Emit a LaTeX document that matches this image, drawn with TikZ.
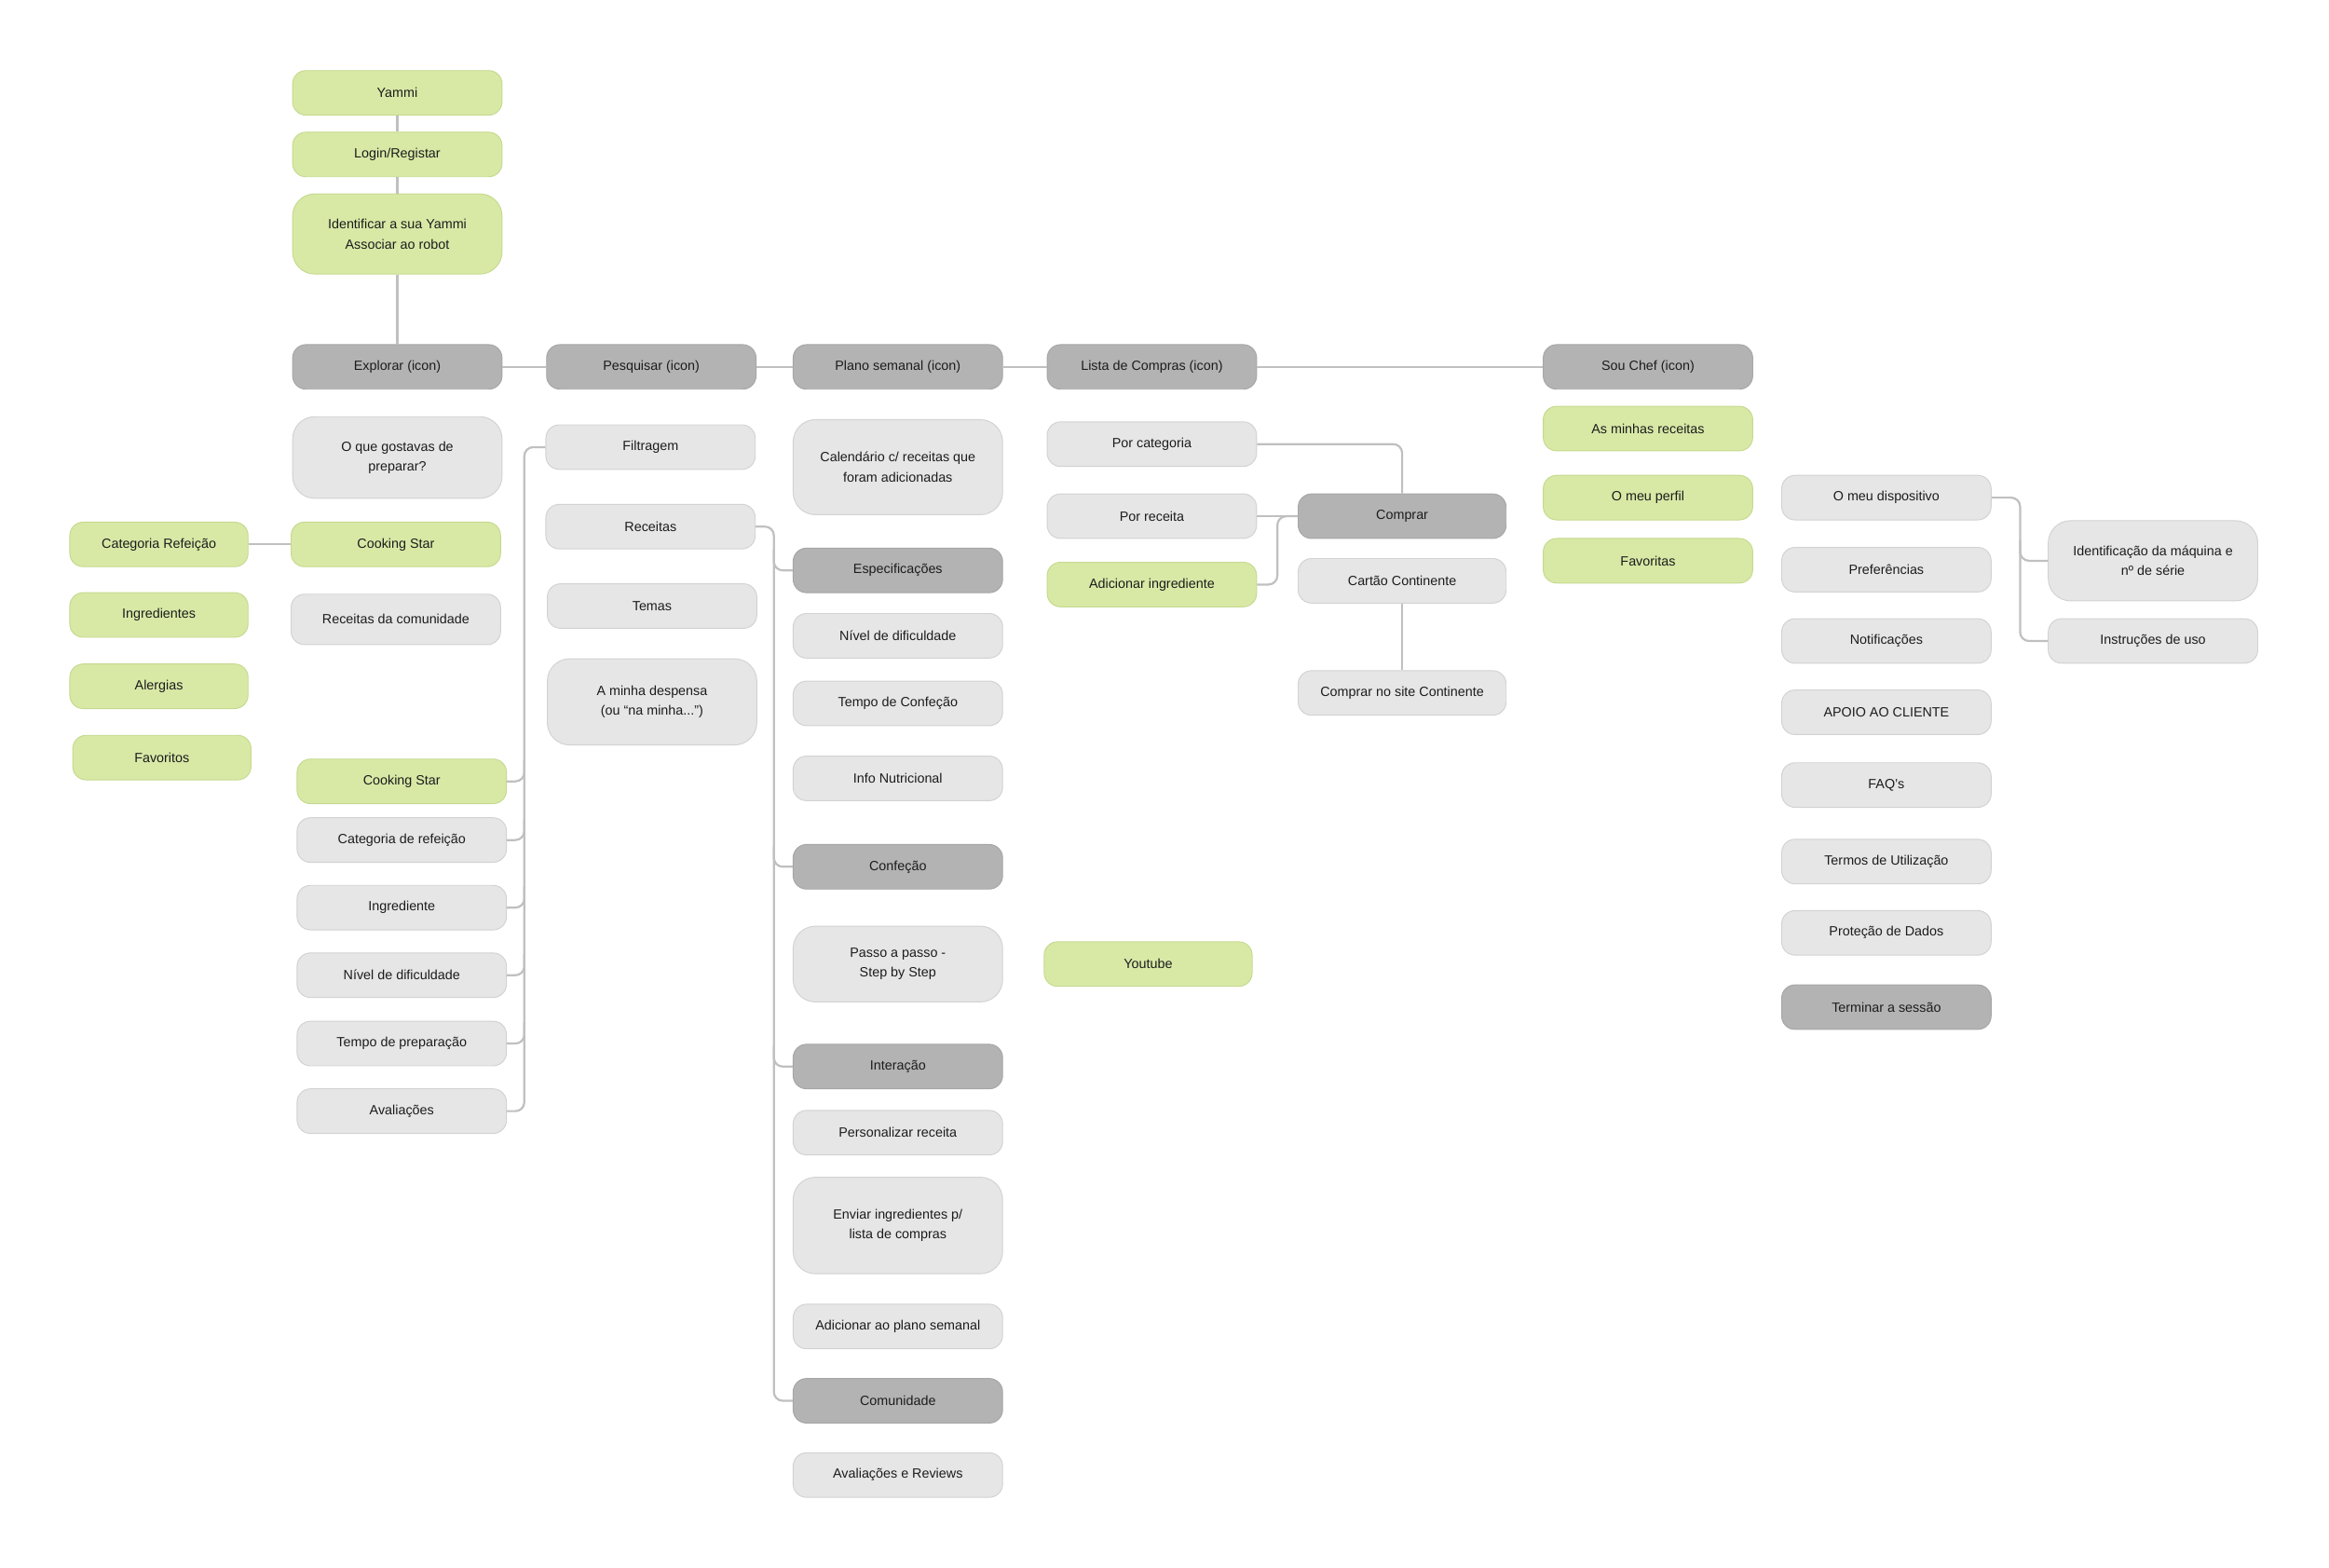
\documentclass[tikz,border=0pt]{standalone}
\usepackage{fontspec}
\setmainfont{Liberation Sans}
\definecolor{cgreen}{HTML}{D8E9A6}
\definecolor{cgreenb}{HTML}{C6D98F}
\definecolor{clight}{HTML}{E6E6E6}
\definecolor{clightb}{HTML}{D2D2D2}
\definecolor{cdark}{HTML}{B3B3B3}
\definecolor{cdarkb}{HTML}{A6A6A6}
\definecolor{clink}{HTML}{C0C0C0}
\definecolor{ctext}{HTML}{1C1C1C}
\tikzset{
  box/.style={rounded corners=9pt, minimum width=141pt, minimum height=30pt, inner sep=0pt,
    align=center, text=ctext, line width=0.6pt, font=\fontsize{9}{13.5}\selectfont},
  tall/.style={rounded corners=15pt, minimum height=#1},
  gbox/.style={box, fill=cgreen, draw=cgreenb},
  lbox/.style={box, fill=clight, draw=clightb},
  dbox/.style={box, fill=cdark, draw=cdarkb},
  link/.style={draw=clink, line width=1.4pt, rounded corners=6pt}
}
\begin{document}
\begin{tikzpicture}[x=1pt,y=-1pt]
\useasboundingbox (0,-0.5) rectangle (1568,1054.5);
% column A
\node[gbox] (yammi) at (267.5,62) {Yammi};
\node[gbox] (login) at (267.5,103.5) {Login/Registar};
\node[gbox,tall=54pt] (ident) at (267.5,157) {Identificar a sua Yammi\\Associar ao robot};
\node[dbox] (explorar) at (267.5,246.5) {Explorar (icon)};
\node[lbox,tall=55pt] (gostavas) at (267.5,307.5) {O que gostavas de\\preparar?};
\node[gbox] (cs1) at (266.5,366) {Cooking Star};
\node[lbox,minimum height=34pt] (comun) at (266.5,416.5) {Receitas da comunidade};
% far left
\node[gbox,minimum width=120pt] (catref) at (107,366) {Categoria Refeição};
\node[gbox,minimum width=120pt] (ingr) at (107,413.5) {Ingredientes};
\node[gbox,minimum width=120pt] (alerg) at (107,461.5) {Alergias};
\node[gbox,minimum width=120pt] (favs) at (109,509.5) {Favoritos};
% column A lower
\node[gbox] (cs2) at (270.5,525.5) {Cooking Star};
\node[lbox] (catref2) at (270.5,565) {Categoria de refeição};
\node[lbox] (ingr2) at (270.5,610.5) {Ingrediente};
\node[lbox] (nivel1) at (270.5,656) {Nível de dificuldade};
\node[lbox] (tempo1) at (270.5,702) {Tempo de preparação};
\node[lbox] (aval1) at (270.5,747.5) {Avaliações};
% column B
\node[dbox] (pesquisar) at (438.5,246.5) {Pesquisar (icon)};
\node[lbox] (filtr) at (438,300.5) {Filtragem};
\node[lbox] (receitas) at (438,354) {Receitas};
\node[lbox] (temas) at (439,407.5) {Temas};
\node[lbox,tall=58pt] (despensa) at (439,472) {A minha despensa\\(ou “na minha...”)};
% column C
\node[dbox] (plano) at (604.5,246.5) {Plano semanal (icon)};
\node[lbox,tall=64pt] (calend) at (604.5,314) {Calendário c/ receitas que\\foram adicionadas};
\node[dbox] (espec) at (604.5,383.5) {Especificações};
\node[lbox] (nivel2) at (604.5,427.5) {Nível de dificuldade};
\node[lbox] (tempo2) at (604.5,473) {Tempo de Confeção};
\node[lbox] (info) at (604.5,523.5) {Info Nutricional};
\node[dbox] (confecao) at (604.5,583) {Confeção};
\node[lbox,tall=51pt] (passo) at (604.5,648.5) {Passo a passo -\\Step by Step};
\node[dbox] (interacao) at (604.5,717.5) {Interação};
\node[lbox] (personal) at (604.5,762) {Personalizar receita};
\node[lbox,tall=65pt] (enviar) at (604.5,824.5) {Enviar ingredientes p/\\lista de compras};
\node[lbox] (adplano) at (604.5,892.5) {Adicionar ao plano semanal};
\node[dbox] (comunidade) at (604.5,942.5) {Comunidade};
\node[lbox] (avrev) at (604.5,992.5) {Avaliações e Reviews};
% column D
\node[dbox] (lista) at (775.5,246.5) {Lista de Compras (icon)};
\node[lbox] (porcat) at (775.5,298.5) {Por categoria};
\node[lbox] (porrec) at (775.5,347) {Por receita};
\node[gbox] (adic) at (775.5,393) {Adicionar ingrediente};
\node[gbox,minimum width=140pt] (youtube) at (773,648.5) {Youtube};
% column E
\node[dbox,minimum width=140pt] (comprar) at (944,347) {Comprar};
\node[lbox,minimum width=140pt] (cartao) at (944,390.5) {Cartão Continente};
\node[lbox,minimum width=140pt] (site) at (944,466) {Comprar no site Continente};
% column F
\node[dbox] (souchef) at (1109.5,246.5) {Sou Chef (icon)};
\node[gbox] (minhas) at (1109.5,288) {As minhas receitas};
\node[gbox] (perfil) at (1109.5,334.5) {O meu perfil};
\node[gbox] (favoritas) at (1109.5,377) {Favoritas};
% column G
\node[lbox] (disp) at (1270,334.5) {O meu dispositivo};
\node[lbox] (pref) at (1270,383) {Preferências};
\node[lbox] (notif) at (1270,431) {Notificações};
\node[lbox] (apoio) at (1270,479) {APOIO AO CLIENTE};
\node[lbox] (faq) at (1270,528) {FAQ’s};
\node[lbox] (termos) at (1270,579.5) {Termos de Utilização};
\node[lbox] (protecao) at (1270,627.5) {Proteção de Dados};
\node[dbox] (terminar) at (1270,677.5) {Terminar a sessão};
% column H
\node[lbox,tall=54pt] (identmaq) at (1449.5,377) {Identificação da máquina e\\nº de série};
\node[lbox] (instr) at (1449.5,431) {Instruções de uso};
% bracket coordinates
\coordinate (bxa) at (353,0);
\coordinate (bxb) at (521,0);
\coordinate (bxc) at (860,0);
\coordinate (bxd) at (1360,0);
% links
\draw[link] (yammi) -- (login);
\draw[link] (login) -- (ident);
\draw[link] (ident) -- (explorar);
\draw[link] (explorar) -- (pesquisar);
\draw[link] (pesquisar) -- (plano);
\draw[link] (plano) -- (lista);
\draw[link] (lista) -- (souchef);
\draw[link] (catref) -- (cs1);
% filtragem bracket
\draw[link] (filtr.west) -- (filtr.west -| bxa) |- (aval1.east);
\foreach \n in {cs2,catref2,ingr2,nivel1,tempo1}
  \draw[link] (\n.east) -- (\n.east -| bxa) -- ++(0,-14);
% receitas bracket
\draw[link] (receitas.east) -- (receitas.east -| bxb) |- (comunidade.west);
\foreach \n in {espec,confecao,interacao}
  \draw[link] (\n.west) -- (\n.west -| bxb) -- ++(0,-14);
% compras
\draw[link] (porcat.east) -| (comprar.north);
\draw[link] (porrec.east) -- (comprar.west);
\draw[link] (adic.east) -- (adic.east -| bxc) |- (comprar.west);
\draw[link] (cartao) -- (site);
% dispositivo
\draw[link] (disp.east) -- (disp.east -| bxd) |- (instr.west);
\draw[link] (identmaq.west) -- (identmaq.west -| bxd) -- ++(0,-14);
\end{tikzpicture}
\end{document}
